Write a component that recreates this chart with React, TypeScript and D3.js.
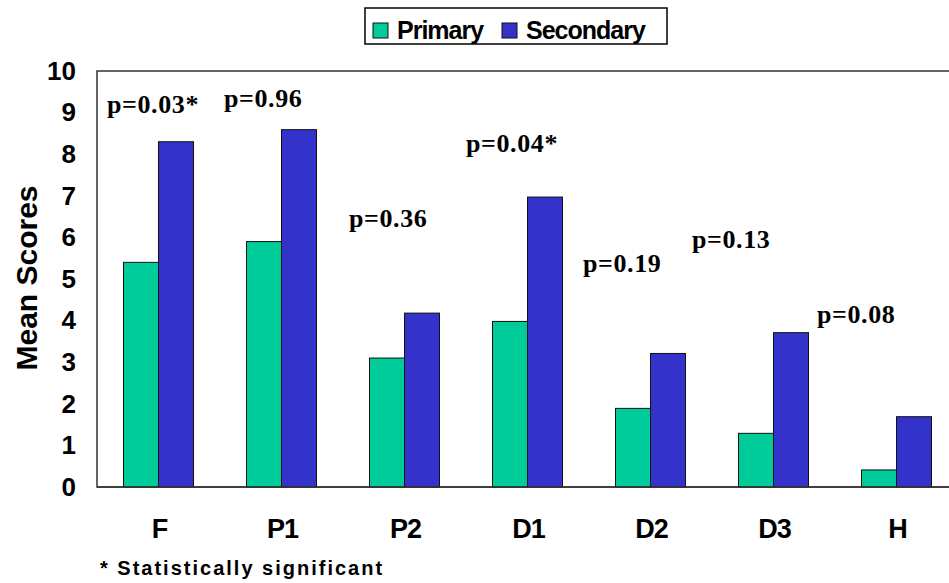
import { useEffect, useRef } from 'react';
import * as d3 from 'd3';

const categories = ['F', 'P1', 'P2', 'D1', 'D2', 'D3', 'H'];
const seriesNames = ['Primary', 'Secondary'];
const primaryScores = [5.4, 5.9, 3.1, 3.98, 1.89, 1.29, 0.41];
const secondaryScores = [8.3, 8.59, 4.18, 6.97, 3.21, 3.71, 1.69];
const pValues = ['p=0.03*', 'p=0.96', 'p=0.36', 'p=0.04*', 'p=0.19', 'p=0.13', 'p=0.08'];
// where each p label sits, in score units (baseline) and px offset from the group's left edge
const pLabelY = [8.99, 9.14, 6.26, 8.06, 5.18, 5.74, 3.94];
const pLabelDx = [10, 4, 6, 0, -6, -20, -18];
const yTicks = [0, 1, 2, 3, 4, 5, 6, 7, 8, 9, 10];
const footnote = '* Statistically significant';

const colors = ['#00CC99', '#3333CC'];

export default function App() {
  const ref = useRef<SVGSVGElement | null>(null);

  useEffect(() => {
    if (!ref.current) return;
    const svg = d3.select(ref.current);
    svg.selectAll('*').remove();

    const width = 949;
    const height = 583;
    const margin = { top: 71, left: 97, bottom: 96, right: -9 };
    const plotRight = width - margin.right;
    const plotBottom = height - margin.bottom;

    svg.append('rect').attr('width', width).attr('height', height).attr('fill', '#fff');

    const x0 = d3.scaleBand()
      .domain(categories)
      .range([margin.left, plotRight])
      .padding(0);

    const x1 = d3.scaleBand()
      .domain(seriesNames)
      .range([0, x0.bandwidth()])
      .paddingInner(0)
      .paddingOuter(0.757);

    const y = d3.scaleLinear()
      .domain([0, 10])
      .range([plotBottom, margin.top]);

    // plot frame
    svg.append('rect')
      .attr('x', margin.left)
      .attr('y', margin.top)
      .attr('width', plotRight - margin.left)
      .attr('height', plotBottom - margin.top)
      .attr('fill', 'none')
      .attr('stroke', '#333')
      .attr('stroke-width', 1.5);

    // Y axis labels
    const yAxis = svg.append('g')
      .attr('transform', `translate(${margin.left},0)`)
      .call(d3.axisLeft(y).tickValues(yTicks).tickSize(0).tickPadding(21));
    yAxis.select('.domain').remove();
    yAxis.selectAll('text')
      .attr('font-family', 'Liberation Sans, Arial, sans-serif')
      .attr('font-size', '26px')
      .attr('font-weight', 'bold')
      .attr('fill', '#000');

    svg.append('text')
      .attr('transform', `translate(37,278) rotate(-90)`)
      .attr('text-anchor', 'middle')
      .attr('font-family', 'Liberation Sans, Arial, sans-serif')
      .attr('font-size', '30px')
      .attr('font-weight', 'bold')
      .text('Mean Scores');

    // bars
    const rows = categories.map((c, i) => ({ cat: c, vals: [primaryScores[i], secondaryScores[i]] }));
    const groups = svg.selectAll('.grp')
      .data(rows)
      .enter().append('g')
      .attr('class', 'grp')
      .attr('transform', d => `translate(${x0(d.cat)},0)`);

    groups.selectAll('rect')
      .data(d => d.vals.map((v, k) => ({ name: seriesNames[k], v, k })))
      .enter().append('rect')
      .attr('x', d => x1(d.name)!)
      .attr('y', d => y(d.v))
      .attr('width', x1.bandwidth())
      .attr('height', d => plotBottom - y(d.v))
      .attr('fill', d => colors[d.k])
      .attr('stroke', '#111')
      .attr('stroke-width', 1);

    // redraw the baseline over the bars
    svg.append('line')
      .attr('x1', margin.left).attr('x2', plotRight)
      .attr('y1', plotBottom).attr('y2', plotBottom)
      .attr('stroke', '#333').attr('stroke-width', 1.5);

    // p-value labels
    svg.selectAll('.plabel')
      .data(categories)
      .enter().append('text')
      .attr('class', 'plabel')
      .attr('x', (c, i) => x0(c)! + pLabelDx[i])
      .attr('y', (c, i) => y(pLabelY[i]))
      .attr('font-family', "'Liberation Serif', 'Times New Roman', serif")
      .attr('font-size', '26px')
      .attr('font-weight', 'bold')
      .attr('letter-spacing', '0.6px')
      .text((c, i) => pValues[i]);

    // category labels
    svg.selectAll('.cat')
      .data(categories)
      .enter().append('text')
      .attr('class', 'cat')
      .attr('x', c => x0(c)! + x0.bandwidth() / 2 + 1)
      .attr('y', 538)
      .attr('text-anchor', 'middle')
      .attr('font-family', 'Liberation Sans, Arial, sans-serif')
      .attr('font-size', '27px')
      .attr('font-weight', 'bold')
      .attr('letter-spacing', '-1px')
      .text(c => c);

    svg.append('text')
      .attr('x', 100)
      .attr('y', 575)
      .attr('font-family', 'Liberation Sans, Arial, sans-serif')
      .attr('font-size', '20px')
      .attr('font-weight', 'bold')
      .attr('letter-spacing', '2px')
      .text(footnote);

    // legend
    const legend = svg.append('g');
    legend.append('rect')
      .attr('x', 365).attr('y', 8)
      .attr('width', 302).attr('height', 36)
      .attr('fill', '#fff')
      .attr('stroke', '#000')
      .attr('stroke-width', 1.5);
    const legendX = [373, 502];
    seriesNames.forEach((s, k) => {
      legend.append('rect')
        .attr('x', legendX[k]).attr('y', 23)
        .attr('width', 15).attr('height', 15)
        .attr('fill', colors[k])
        .attr('stroke', '#111');
      legend.append('text')
        .attr('x', legendX[k] + 24)
        .attr('y', 39)
        .attr('font-family', 'Liberation Sans, Arial, sans-serif')
        .attr('font-size', '25px')
        .attr('font-weight', 'bold')
        .attr('letter-spacing', '-1px')
        .text(s);
    });
  }, []);

  return (
    <svg
      ref={ref}
      width={949}
      height={583}
      style={{ position: 'absolute', left: 0, top: 0 }}
    />
  );
}
